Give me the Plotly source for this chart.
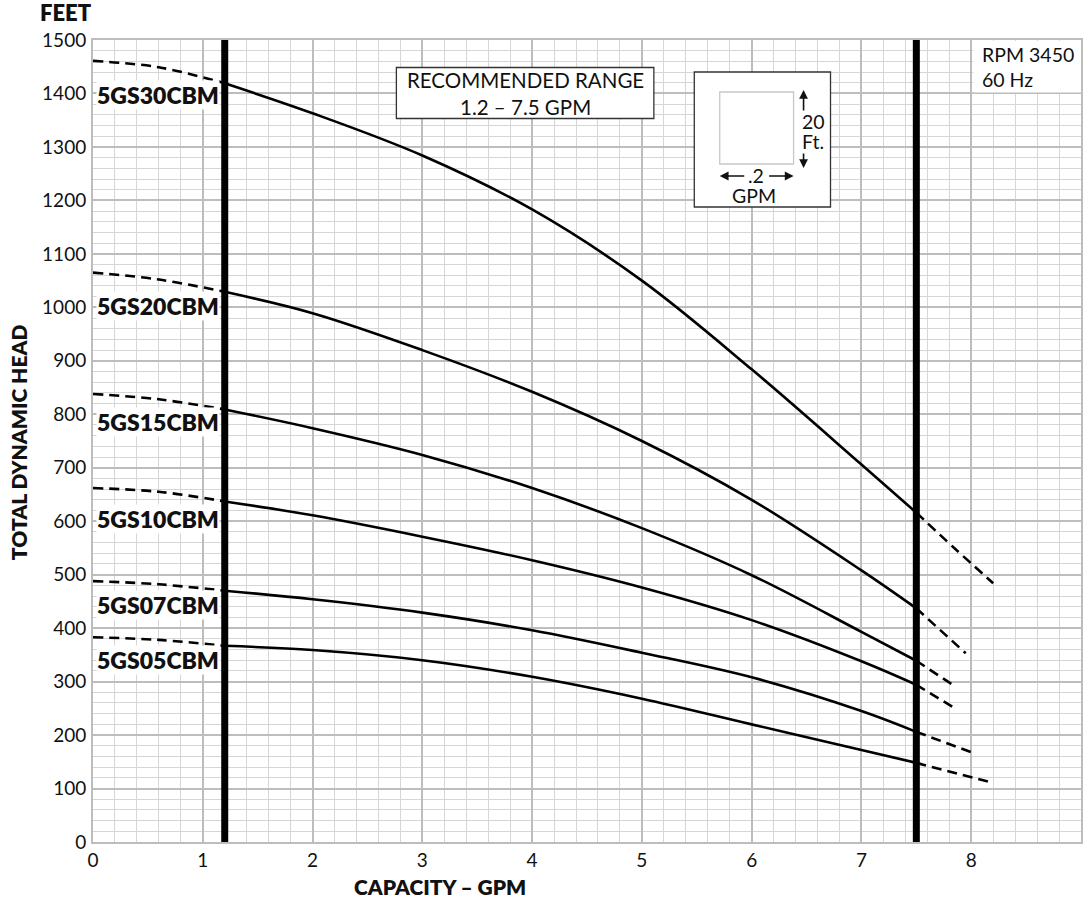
import plotly.graph_objects as go

# ---------------- data ----------------
models = ["5GS30CBM", "5GS20CBM", "5GS15CBM", "5GS10CBM", "5GS07CBM", "5GS05CBM"]

# dashed portion left of the recommended range
gpm_left = [0, 0.6, 1.2]
head_30_left = [1461, 1449, 1419]
head_20_left = [1065, 1052, 1029]
head_15_left = [838, 828, 809]
head_10_left = [662, 655, 637]
head_07_left = [488, 482, 470]
head_05_left = [383, 378, 367]

# solid portion inside the recommended range
gpm_mid = [1.2, 2, 3, 4, 5, 6, 7, 7.5]
head_30_mid = [1419, 1363, 1284, 1183, 1050, 884, 706, 616]
head_20_mid = [1029, 989, 920, 842, 750, 640, 508, 437]
head_15_mid = [809, 774, 724, 662, 587, 499, 393, 339]
head_10_mid = [637, 611, 571, 527, 476, 415, 338, 294]
head_07_mid = [470, 454, 429, 396, 354, 308, 245, 206]
head_05_mid = [367, 359, 340, 309, 268, 220, 172, 148]

# dashed portion right of the recommended range
gpm_30_right = [7.5, 7.85, 8.2]
head_30_right = [616, 549, 484]
gpm_20_right = [7.5, 7.95]
head_20_right = [437, 353]
gpm_15_right = [7.5, 7.86]
head_15_right = [339, 290]
gpm_10_right = [7.5, 7.86]
head_10_right = [294, 249]
gpm_07_right = [7.5, 8.0]
head_07_right = [206, 168]
gpm_05_right = [7.5, 8.17]
head_05_right = [148, 112]

recommended_range = [1.2, 7.5]
x_tick_vals = [0, 1, 2, 3, 4, 5, 6, 7, 8]
y_tick_vals = list(range(0, 1501, 100))

lefts = [head_30_left, head_20_left, head_15_left, head_10_left, head_07_left, head_05_left]
mids = [head_30_mid, head_20_mid, head_15_mid, head_10_mid, head_07_mid, head_05_mid]
rights_x = [gpm_30_right, gpm_20_right, gpm_15_right, gpm_10_right, gpm_07_right, gpm_05_right]
rights_y = [head_30_right, head_20_right, head_15_right, head_10_right, head_07_right, head_05_right]

# ---------------- layout constants ----------------
W, H = 1083, 911
ML, MR, MT, MB = 93, 0, 40, 69
PW, PH = W - ML - MR, H - MT - MB
FONT = "Lato"
INK = "#111111"


def pxx(p):
    return (p - ML) / PW


def pxy(p):
    return 1 - (p - MT) / PH


fig = go.Figure()
dash = "10px,6px"
for i, m in enumerate(models):
    fig.add_trace(go.Scatter(x=gpm_left, y=lefts[i], mode="lines", line_shape="spline",
                             line=dict(color="black", width=2.6, dash=dash), hoverinfo="skip"))
    fig.add_trace(go.Scatter(x=gpm_mid, y=mids[i], mode="lines", line_shape="spline", name=m,
                             line=dict(color="black", width=2.6)))
    fig.add_trace(go.Scatter(x=rights_x[i], y=rights_y[i], mode="lines", line_shape="spline",
                             line=dict(color="black", width=2.6, dash=dash), hoverinfo="skip"))

shapes = []
for xv in recommended_range:
    shapes.append(dict(type="line", xref="x", yref="y", x0=xv, x1=xv, y0=0, y1=1500,
                       line=dict(color="black", width=7), layer="above"))

# RPM box (covers the grid cell at the top right)
shapes.append(dict(type="rect", xref="paper", yref="paper", x0=pxx(975), x1=1.0, y0=pxy(92.5), y1=pxy(41),
                   fillcolor="white", line=dict(width=0), layer="above"))
# recommended range box
shapes.append(dict(type="rect", xref="paper", yref="paper", x0=pxx(397), x1=pxx(655), y0=pxy(118.5), y1=pxy(67.5),
                   fillcolor="white", line=dict(color="#333333", width=1.3), layer="above"))
# scale legend box
shapes.append(dict(type="rect", xref="paper", yref="paper", x0=pxx(695.5), x1=pxx(832), y0=pxy(207), y1=pxy(72),
                   fillcolor="white", line=dict(color="#333333", width=1.3), layer="above"))
shapes.append(dict(type="rect", xref="paper", yref="paper", x0=pxx(721), x1=pxx(795), y0=pxy(164), y1=pxy(92),
                   fillcolor="white", line=dict(color="#c8c8c8", width=1.3), layer="above"))


def txt(px, py, text, size, xanchor="center", weight="normal", **kw):
    return dict(x=pxx(px), y=pxy(py), xref="paper", yref="paper", text=text, showarrow=False,
                xanchor=xanchor, yanchor="middle",
                font=dict(family=FONT, size=size, color=INK, weight=weight), **kw)


ann = []
label_y = [1397, 1003, 785, 604, 443, 340]
for m, yv in zip(models, label_y):
    ann.append(dict(x=0.03, y=yv, xref="x", yref="y", text=m, showarrow=False, xanchor="left",
                    yanchor="middle", bgcolor="white", borderpad=0,
                    font=dict(family=FONT, size=23, color=INK, weight=800)))

ann.append(txt(526, 93, "RECOMMENDED RANGE<br>1.2 – 7.5 GPM", 20.5))
ann.append(txt(982, 67, "RPM 3450<br>60 Hz", 19.5, xanchor="left", align="left"))
# scale legend texts and arrows
ann.append(txt(801, 122, "20", 19.5, xanchor="left"))
ann.append(txt(801, 141.5, "Ft.", 19.5, xanchor="left"))
ann.append(txt(757.5, 175.5, ".2", 19.5))
ann.append(txt(755.5, 195.5, "GPM", 19.5))
for hx, hy, ax, ay in [(805, 90, 0, 22), (805, 168, 0, -16), (721, 176, 26, 0), (795, 176, -26, 0)]:
    ann.append(dict(x=pxx(hx), y=pxy(hy), xref="paper", yref="paper", text="", showarrow=True,
                    ax=ax, ay=ay, arrowhead=2, arrowsize=1.1, arrowwidth=1.6, arrowcolor=INK))

# axis titles
ann.append(txt(66, 13, "FEET", 22, weight=800))
ann.append(txt(18, 442, "TOTAL DYNAMIC HEAD", 21, weight=800, textangle=-90))
ann.append(txt(441, 887, "CAPACITY – GPM", 21, weight=800))

grid_major = "#bdbdbd"
grid_minor = "#d6d6d6"
fig.update_layout(
    width=W, height=H, margin=dict(l=ML, r=MR, t=MT, b=MB),
    plot_bgcolor="white", paper_bgcolor="white", showlegend=False,
    shapes=shapes, annotations=ann,
    font=dict(family=FONT, size=19, color=INK),
    xaxis=dict(range=[0, 9], tickvals=x_tick_vals, showgrid=True, gridcolor=grid_major, gridwidth=1.6,
               minor=dict(dtick=0.2, tick0=0, showgrid=True, gridcolor=grid_minor, gridwidth=1.1),
               showline=True, linecolor=grid_major, linewidth=2, mirror=True, zeroline=False,
               ticks="", ticklabelstandoff=0, tickfont=dict(family=FONT, size=19, color=INK)),
    yaxis=dict(range=[0, 1500], tickvals=y_tick_vals, showgrid=True, gridcolor=grid_major, gridwidth=1.6,
               minor=dict(dtick=20, tick0=0, showgrid=True, gridcolor=grid_minor, gridwidth=1.1),
               showline=True, linecolor=grid_major, linewidth=2, mirror=True, zeroline=False,
               ticks="", ticklabelstandoff=1, tickfont=dict(family=FONT, size=19, color=INK)),
)

fig.write_html("out.html", config={"displayModeBar": False},
               post_script="document.body.style.margin='0';")
